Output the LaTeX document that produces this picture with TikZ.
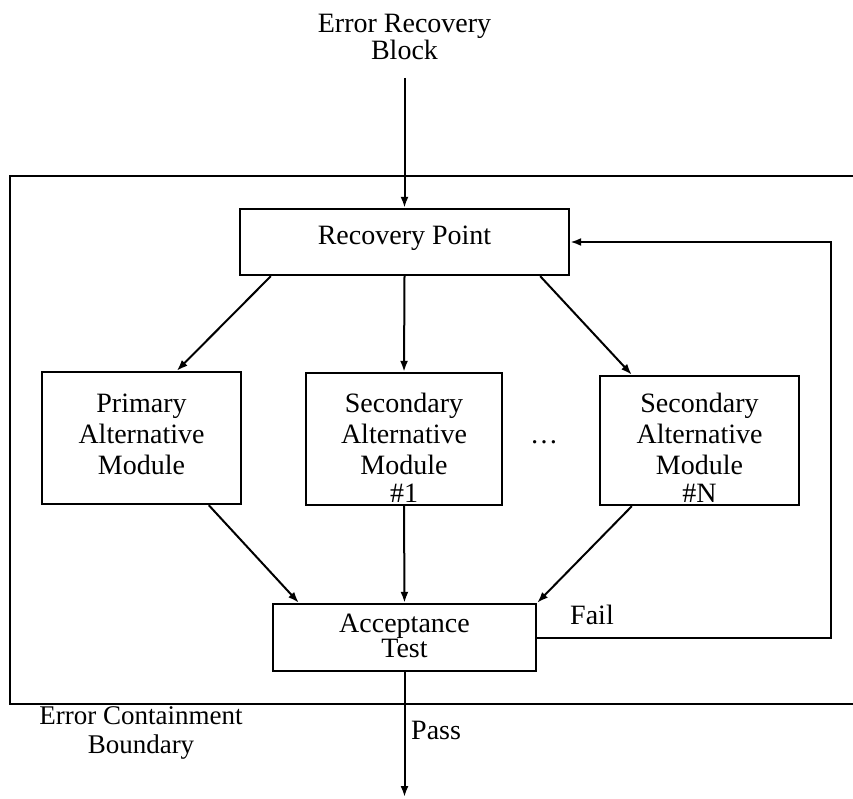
\documentclass[tikz,border=0pt]{standalone}
\usepackage{fontspec}
\setmainfont{Liberation Serif}
\usetikzlibrary{arrows.meta}
\tikzset{
  box/.style={draw, line width=2.4pt, rectangle, inner sep=0pt},
  txt/.style={align=center, inner sep=0pt, font=\fontsize{28}{31}\selectfont},
  tight/.style={align=center, inner sep=0pt, font=\fontsize{28}{23}\selectfont},
  flow/.style={line width=2pt, -{Latex[length=11pt,width=8pt]}},
  edge/.style={line width=2.4pt}
}
\begin{document}
\begin{tikzpicture}[x=1pt,y=-1pt]
\useasboundingbox (0,0) rectangle (853,799);

% error containment boundary, open towards the right
\draw[edge] (853,176) -- (10,176) -- (10,704) -- (853,704);

% boxes
\node[box, minimum width=329pt, minimum height=66pt] (rp) at (404.5,242) {};
\node[box, minimum width=199pt, minimum height=132pt] (pam) at (141.5,438) {};
\node[box, minimum width=196pt, minimum height=132pt] (sam1) at (404,439) {};
\node[box, minimum width=199pt, minimum height=129pt] (samN) at (699.5,440.5) {};
\node[box, minimum width=263pt, minimum height=67pt] (at) at (404.5,637.5) {};

% box texts
\node[txt] (rpT) at (404.5,238) {Recovery Point};
\node[txt] (pamT) at (141.5,434) {Primary\\Alternative\\Module};
\node[txt] (sam1T) at (404,448) {Secondary\\Alternative\\Module\\[-3pt]\#1};
\node[txt] (samNT) at (699.5,448) {Secondary\\Alternative\\Module\\[-3pt]\#N};
\node[tight] (atT) at (404.5,636) {Acceptance\\Test};
\node[txt] (dots) at (544,442) {\ldots};

% free labels
\node[tight] (title) at (404.5,37) {Error Recovery\\Block};
\node[txt, font=\fontsize{27}{29}\selectfont] (ecb) at (141,733) {Error Containment\\Boundary};
\node[txt, anchor=west] (pass) at (411,730) {Pass};
\node[txt] (fail) at (592,615) {Fail};

% end points of the entry and exit lines, and the feedback corner column
\coordinate (in) at (404.5,78);
\coordinate (out) at (404.5,797);
\coordinate (loopR) at (831,0);

% connectors
\draw[flow] (in) -- (rp.north);
\draw[flow] ([xshift=32]rp.south west) -- ([xshift=136]pam.north west);
\draw[flow] (rp.south) -- (sam1.north);
\draw[flow] ([xshift=-30]rp.south east) -- ([xshift=33]samN.north west);
\draw[flow] ([xshift=168]pam.south west) -- ([xshift=27]at.north west);
\draw[flow] (sam1.south) -- (at.north);
\draw[flow] ([xshift=33]samN.south west) -- (at.north east);
\draw[flow] (at.east) -- (loopR |- at.east) -- (loopR |- rp.east) -- (rp.east);
\draw[flow] (at.south) -- (out);
\end{tikzpicture}
\end{document}
